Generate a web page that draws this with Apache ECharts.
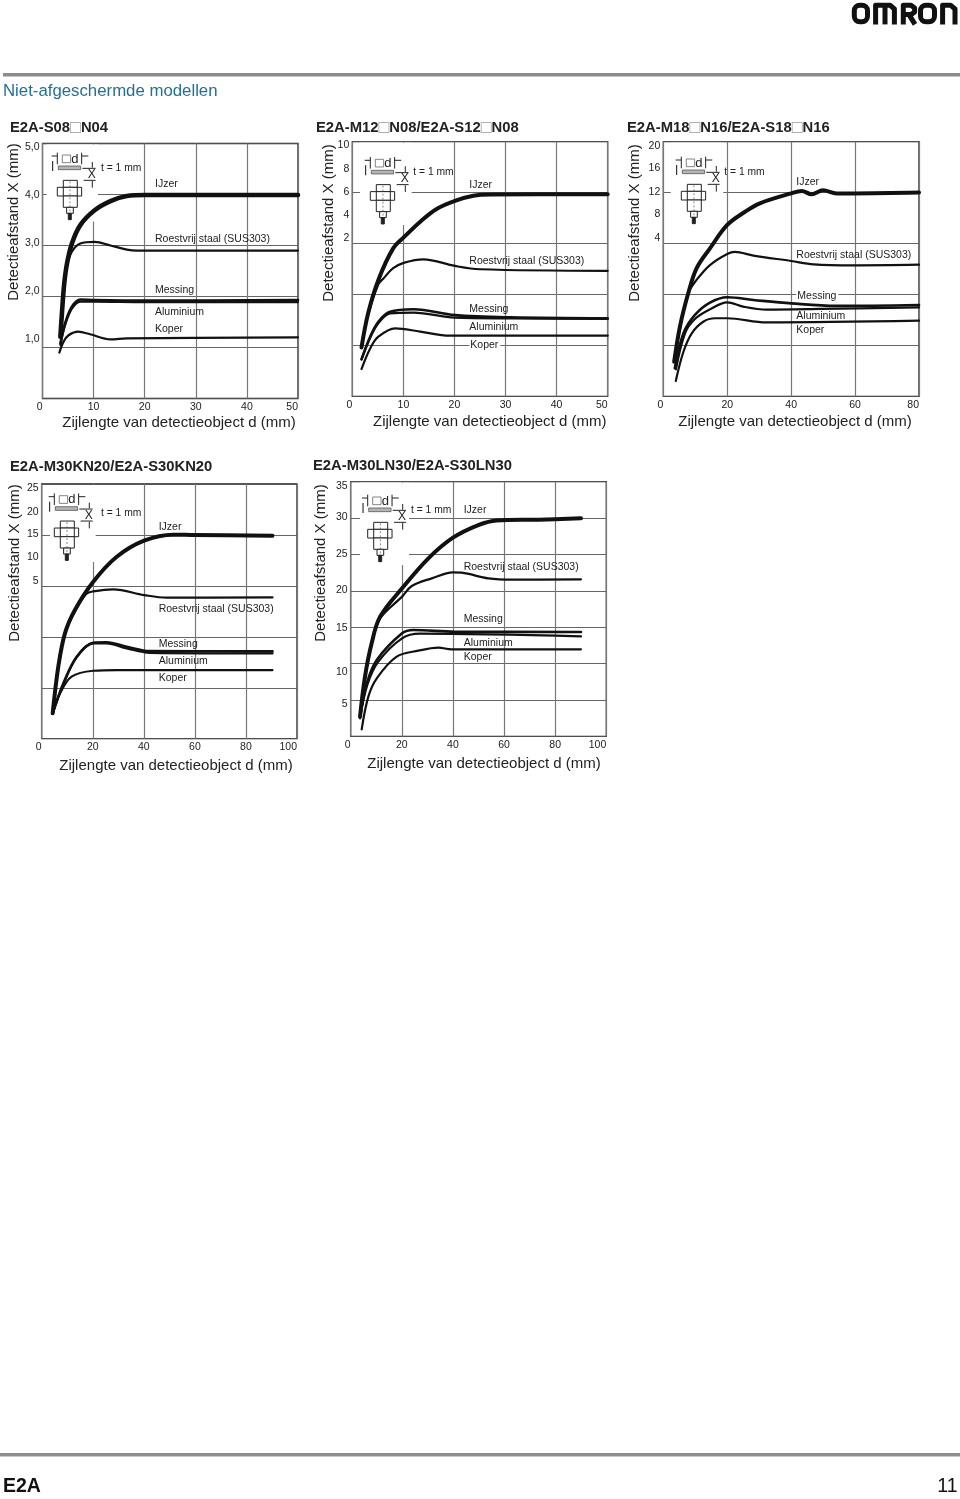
<!DOCTYPE html>
<html><head><meta charset="utf-8">
<style>html,body{margin:0;padding:0;background:#fff}#c{width:960px;height:1499px}</style>
<script src="https://cdn.jsdelivr.net/npm/echarts@6/dist/echarts.min.js"></script>
</head><body><div id="c"></div>
<script>
// ---------- data: [d (mm), X (mm)] ----------
const materials = ['IJzer','Roestvrij staal (SUS303)','Messing','Aluminium','Koper'];
const s08_ijzer = [[3.5,1.21],[3.8,1.67],[4.25,2.25],[4.8,2.65],[5.75,3.04],[7.4,3.4],[10.2,3.69],[13.3,3.87],[16.5,3.97],[20.1,3.99],[50,3.99]];
const s08_roest = [[3.6,1.25],[4.2,2.1],[4.8,2.6],[5.75,2.88],[7.4,3.04],[10.2,3.07],[13.3,3.0],[16.5,2.92],[18.5,2.9],[50,2.9]];
const s08_messing = [[3.5,1.08],[4.4,1.47],[5.75,1.8],[7.4,1.94],[10.2,1.93],[20,1.92],[50,1.93]];
const s08_alu = [[3.5,1.05],[4.4,1.43],[5.75,1.76],[7.4,1.9],[10.2,1.9],[20,1.89],[50,1.89]];
const s08_koper = [[3.3,0.9],[4.1,1.11],[5.1,1.24],[7,1.31],[9.3,1.26],[13.3,1.16],[16.5,1.18],[50,1.2]];

const m12_ijzer = [[1.8,1.92],[3.1,3.26],[5.1,4.57],[8,5.81],[10.2,6.27],[13.3,6.86],[16.5,7.36],[20.1,7.68],[23.7,7.88],[27,7.93],[50,7.94]];
const m12_roest = [[1.8,1.9],[3.1,3.2],[5.1,4.4],[6.1,4.63],[8,5.03],[10.2,5.25],[13.9,5.38],[20.1,5.12],[25,4.99],[50,4.93]];
const m12_messing = [[1.8,1.45],[3.5,2.34],[5.1,2.93],[7.4,3.32],[12,3.42],[20.1,3.19],[31,3.1],[50,3.06]];
const m12_alu = [[1.8,1.45],[3.5,2.3],[5.1,2.87],[7.4,3.26],[12,3.29],[20.1,3.09],[31,3.06],[50,3.04]];
const m12_koper = [[1.8,1.07],[3.5,1.88],[5.1,2.34],[8.4,2.67],[13.3,2.54],[19.1,2.38],[50,2.38]];

const m18_ijzer = [[3.4,2.72],[5.2,5.47],[7.8,8.09],[10.4,10.05],[14.6,11.62],[20,13.46],[25.6,14.5],[30.2,15.16],[40,15.94],[43.3,16.13],[46.4,15.87],[50,16.18],[54.2,15.94],[59.4,15.94],[80,16]];
const m18_roest = [[3.5,2.7],[5.3,5.4],[7.8,8.1],[10.4,9.14],[14.6,10.31],[20,11.18],[22.4,11.34],[28.2,11.05],[40,10.63],[47,10.37],[59.4,10.29],[80,10.34]];
const m18_messing = [[3.6,2.2],[6.3,4.95],[9.9,6.39],[14.6,7.36],[20,7.78],[28.2,7.57],[40,7.3],[54.2,7.1],[80,7.17]];
const m18_alu = [[3.96,2.12],[6.8,4.95],[9.9,6.07],[14.6,6.83],[20,7.38],[25,7.04],[32.3,6.81],[49,6.86],[80,6.99]];
const m18_koper = [[3.9,1.2],[6.3,3.5],[8.9,4.95],[12.5,5.86],[16.2,6.13],[20,6.13],[32.3,5.81],[80,5.94]];

const kn20_ijzer = [[4.3,2.49],[6.5,7.07],[9.1,10.34],[13,12.63],[20.2,15.41],[29.4,17.86],[40.1,19.44],[51.5,20.03],[60,19.99],[90.4,19.93]];
const kn20_roest = [[4.3,2.49],[6.5,7.07],[9.1,10.34],[13,12.5],[17.4,14.2],[20.2,14.46],[28,14.66],[40.1,14.1],[48.9,13.84],[90.4,13.87]];
const kn20_messing = [[4.3,2.49],[8.5,5.43],[13.7,8.05],[20.2,9.42],[25.4,9.46],[33.3,9.03],[42.4,8.6],[90.4,8.57]];
const kn20_alu = [[4.3,2.49],[8.5,5.36],[13.7,7.98],[20.2,9.35],[25.4,9.36],[33.3,8.87],[42.4,8.43],[90.4,8.37]];
const kn20_koper = [[4.3,2.49],[7.2,4.45],[11.7,6.09],[20.2,6.67],[29.4,6.74],[90.4,6.74]];

const ln30_ijzer = [[3.65,2.7],[5.6,8.2],[8.2,12.78],[11.5,16.45],[20.1,20.34],[30.4,24.46],[40,27.3],[49.9,29.04],[57.1,29.68],[73.4,29.78],[90.1,29.96]];
const ln30_roest = [[3.65,2.7],[5.6,8.2],[8.2,12.7],[11.5,16.2],[20.1,19.2],[23.9,20.66],[31.7,21.71],[40,22.54],[43.4,22.49],[53.9,21.71],[63,21.53],[90.1,21.58]];
const ln30_messing = [[3.65,2.7],[6.3,7.28],[10.2,10.49],[20.1,14.16],[24.5,14.61],[40.8,14.38],[90.1,14.34]];
const ln30_alu = [[3.65,2.47],[6.5,7.05],[10.8,10.26],[20.1,13.47],[27.1,14.11],[90.1,13.74]];
const ln30_koper = [[4.3,0.96],[6.9,5.45],[10.2,7.97],[18,10.95],[26.5,11.77],[34.3,12.19],[39.5,11.96],[90.1,11.96]];

// tick labels as printed, and where the source prints each one on its axis
const s08_ticks = ['5,0','4,0','3,0','2,0','1,0'];   const s08_tickAt = [4.92,3.99,3.05,2.10,1.16];
const m12_ticks = ['10','8','6','4','2'];            const m12_tickAt = [9.87,8.94,8.01,7.12,6.2];
const m18_ticks = ['20','16','12','8','4'];          const m18_tickAt = [19.69,17.91,16.02,14.29,12.41];
const kn20_ticks = ['25','20','15','10','5'];        const kn20_tickAt = [24.64,22.28,20.06,17.8,15.51];
const ln30_ticks = ['35','30','25','20','15','10','5']; const ln30_tickAt = [34.45,30.1,25.01,20.11,14.93,8.8,4.44];

const titles = ['E2A-S08{b|□}N04','E2A-M12{b|□}N08/E2A-S12{b|□}N08','E2A-M18{b|□}N16/E2A-S18{b|□}N16','E2A-M30KN20/E2A-S30KN20','E2A-M30LN30/E2A-S30LN30'];
const xTitle = 'Zijlengte van detectieobject d (mm)';
const yTitle = 'Detectieafstand X (mm)';

// ---------- layout ----------
const FONT = '"Liberation Sans",Arial,sans-serif';
const panels = [
 {data:[s08_ijzer,s08_roest,s08_messing,s08_alu,s08_koper],ticks:s08_ticks,at:s08_tickAt,l:42.5,r:298,t:143.5,b:398.5,xMax:50,xInt:10,yMax:5,yInt:1,
  tx:10,ty:128,yn:[13,222],xn:[179,422],plate:[58.3,166],tmm:[42.7,2.3],mask:[46.7,98,221.6],
  labels:[[155,184],[155,239.3],[155,290.3],[155,312],[155,329.3]],ox:0,w0:4.6},
 {data:[m12_ijzer,m12_roest,m12_messing,m12_alu,m12_koper],ticks:m12_ticks,at:m12_tickAt,l:352.3,r:607.7,t:141.7,b:396.3,xMax:50,xInt:10,yMax:10,yInt:2,
  tx:316,ty:128,yn:[328,223],xn:[489.7,421],plate:[371.3,170.3],tmm:[42,1.5],mask:[360,411.7,225],
  labels:[[469.3,185],[469.3,260.7],[469.3,309],[469.3,326.7],[469.3,345]],bg:[4],w0:4},
 {data:[m18_ijzer,m18_roest,m18_messing,m18_alu,m18_koper],ticks:m18_ticks,at:m18_tickAt,l:663.3,r:919,t:141.7,b:396.3,xMax:80,xInt:20,yMax:20,yInt:4,
  tx:627,ty:128,yn:[634,223],xn:[795,421],plate:[682.3,170],tmm:[42,2],mask:[670.7,723.3,225],
  labels:[[796.3,181.7],[796.3,255],[796.3,296],[796.3,316.3],[796.3,329.7]],bg:[2],w0:4},
 {data:[kn20_ijzer,kn20_roest,kn20_messing,kn20_alu,kn20_koper],ticks:kn20_ticks,at:kn20_tickAt,l:41.7,r:297,t:484,b:738.7,xMax:100,xInt:20,yMax:25,yInt:5,
  tx:10,ty:467,yn:[14,563],xn:[176,765],plate:[55.3,506.7],tmm:[45.7,6],mask:[50,95.7,562],
  labels:[[158.7,527.3],[158.7,608.7],[158.7,644],[158.7,661],[158.7,678.3]],w0:4},
 {data:[ln30_ijzer,ln30_roest,ln30_messing,ln30_alu,ln30_koper],ticks:ln30_ticks,at:ln30_tickAt,l:350.7,r:606.3,t:481.7,b:736.3,xMax:100,xInt:20,yMax:35,yInt:5,
  tx:313,ty:466,yn:[320,563],xn:[484,763],plate:[368.7,508],tmm:[42.3,2.3],mask:[360,409,565],
  labels:[[463.7,510],[463.7,567.3],[463.7,619],[463.7,642.7],[463.7,656.7]],w0:4}
];

const W=960,H=1499;
const grid=[],xAxis=[],yAxis=[],series=[],title=[],graphic=[];

function line(x1,y1,x2,y2,z,stroke,lw){return {type:'line',silent:true,z:z||4,shape:{x1,y1,x2,y2},style:{stroke:stroke||'#222',lineWidth:lw||1}};}
function box(x,y,w,h,fill,stroke,lw){return {type:'rect',silent:true,z:4,shape:{x,y,width:w,height:h},style:{fill:fill||'#fff',stroke:stroke||'#222',lineWidth:lw||1}};}
function txt(x,y,s,size,opt){opt=opt||{};return {type:'text',silent:true,z:opt.z||5,x,y,style:Object.assign({text:s,font:(opt.weight||'normal')+' '+size+'px '+FONT,fill:opt.fill||'#222',align:opt.align||'left',verticalAlign:'middle'},opt.style||{})};}

function inset(p){
  const [ox,oy]=p.plate;
  const u=v=>v/3;
  const parts=[
   box(u(0),u(0),u(67),u(11),'#b5b5b5','#555',0.8),
   box(u(12),u(-33),u(25),u(23),'#fff','#777',0.9),
   txt(u(50),u(-21),'d',13,{align:'center'}),
   line(u(-3),u(-40),u(-3),u(-5)), line(u(70),u(-40),u(70),u(-5)),
   line(u(-20),u(-30),u(-3),u(-30)), line(u(70),u(-30),u(90),u(-30)),
   line(u(-17),u(-15),u(-17),u(15),4,'#222',1.1),
   line(u(72),u(7),u(112),u(7)), line(u(76),u(43),u(112),u(43)),
   txt(u(100),u(26),'X',12,{align:'center'}),
   line(u(102),u(-12),u(102),u(5)), line(u(102),u(45),u(102),u(65)),
   box(u(15),u(43),u(42),u(21)),
   box(u(-3),u(64),u(73),u(26)),
   line(u(15),u(64),u(15),u(90)), line(u(57),u(64),u(57),u(90)),
   box(u(15),u(90),u(42),u(34)),
   box(u(25),u(124),u(20),u(18)),
   box(u(30),u(142),u(9),u(19),'#222','#222'),
   {type:'line',silent:true,z:4,shape:{x1:u(35),y1:u(46),x2:u(35),y2:u(138)},style:{stroke:'#555',lineWidth:0.7,lineDash:[2,2]}},
   txt(p.tmm[0],p.tmm[1],'t = 1 mm',10.3)
  ];
  return {type:'group',x:ox,y:oy,silent:true,children:parts};
}

panels.forEach((p,i)=>{
  grid.push({left:p.l,top:p.t,width:p.r-p.l,height:p.b-p.t,show:true,borderColor:'#222',borderWidth:1.3,backgroundColor:'transparent',outerBoundsMode:'none'});
  const xCenter=(p.l+p.r)/2, yCenter=(p.t+p.b)/2;
  xAxis.push({gridIndex:i,type:'value',min:0,max:p.xMax,interval:p.xInt,
    axisLine:{show:false},axisTick:{show:false},
    splitLine:{show:true,lineStyle:{color:'#777',width:1.2}},
    axisLabel:{fontFamily:FONT,fontSize:10.5,color:'#222',margin:3,alignMinLabel:'right',alignMaxLabel:'right',showMinLabel:true,showMaxLabel:true},
    name:xTitle,nameLocation:'middle',nameGap:p.xn[1]-p.b-6.5,nameMoveOverlap:false,
    nameTextStyle:{fontFamily:FONT,fontSize:15,color:'#222',padding:[0,0,0,(p.xn[0]-xCenter)*2]}});
  const ticks=p.ticks, at=p.at;
  yAxis.push({gridIndex:i,type:'value',min:0,max:p.yMax,interval:p.yInt,
    axisLine:{show:false},axisTick:{show:false},
    splitLine:{show:true,lineStyle:{color:'#555',width:0.9}},
    axisLabel:{fontFamily:FONT,fontSize:10.5,color:'#222',margin:3,customValues:at,
      formatter:v=>{let k=0,d=1e9;at.forEach((a,j)=>{if(Math.abs(a-v)<d){d=Math.abs(a-v);k=j;}});return ticks[k];}},
    name:yTitle,nameLocation:'middle',nameRotate:90,nameGap:p.l-p.yn[0]-8,nameMoveOverlap:false,
    nameTextStyle:{fontFamily:FONT,fontSize:15,color:'#222',padding:[0,0,0,(yCenter-p.yn[1])*2]}});
  p.data.forEach((d,j)=>{
    series.push({type:'line',name:materials[j],xAxisIndex:i,yAxisIndex:i,data:d,smooth:0.35,showSymbol:false,silent:true,animation:false,
      lineStyle:{color:'#111',width:j===0?p.w0:(j===2?2.6:2.2),cap:'round',join:'round'},z:j===0?3:2});
  });
  title.push({text:titles[i],left:p.tx,top:p.ty-9,padding:0,
    textStyle:{fontFamily:FONT,fontSize:14.8,fontWeight:'bold',color:'#222',lineHeight:18,rich:{b:{fontFamily:FONT,fontSize:18,color:'#999',fontWeight:'normal',lineHeight:18}}}});
  // white mask the source keeps behind the inset drawing
  graphic.push({type:'rect',silent:true,z:1,shape:{x:p.mask[0],y:p.t+1,width:p.mask[1]-p.mask[0],height:p.mask[2]-p.t-1},style:{fill:'#fff'}});
  graphic.push(inset(p));
  materials.forEach((m,j)=>{
    const hasBg=p.bg&&p.bg.includes(j);
    graphic.push(txt(p.labels[j][0],p.labels[j][1],m,10.5,hasBg?{style:{backgroundColor:'#fff',padding:[0,2,0,1]}}:{}));
  });
});

// page furniture
graphic.push({type:'rect',silent:true,shape:{x:3,y:73,width:957,height:3.6},style:{fill:'#8c8c8c'}});
graphic.push({type:'rect',silent:true,shape:{x:0,y:1453,width:960,height:3.6},style:{fill:'#8c8c8c'}});
graphic.push(txt(3,91.5,'Niet-afgeschermde modellen',16.8,{fill:'#1f6f9f'}));
graphic.push(txt(3,1486.5,'E2A',19.5,{weight:'bold',fill:'#111'}));
graphic.push(txt(957.5,1486.5,'11',19.5,{fill:'#111',align:'right'}));
// logo
const lg={stroke:'#111',lineWidth:5,fill:null,lineJoin:'round'};
graphic.push({type:'rect',silent:true,shape:{x:854.3,y:5.2,width:13.2,height:16.6,r:5.5},style:lg});
graphic.push({type:'rect',silent:true,shape:{x:920.5,y:5.2,width:14,height:16.6,r:5.5},style:lg});
const poly=pts=>({type:'polyline',silent:true,shape:{points:pts},style:lg});
graphic.push(poly([[875.6,24.4],[875.6,5.2],[890,5.2],[894.4,9],[894.4,24.4]]));
graphic.push(poly([[885,5.2],[885,24.4]]));
graphic.push(poly([[903.3,24.4],[903.3,5.2],[911,5.2],[914.6,8],[914.6,12],[911,14.6],[903.3,14.6]]));
graphic.push(poly([[909,14.6],[915,24.4]]));
graphic.push(poly([[942.6,24.4],[942.6,5.2],[950.5,5.2],[955,9],[955,24.4]]));

const chart=echarts.init(document.getElementById('c'),null,{renderer:'canvas',width:W,height:H});
chart.setOption({animation:false,backgroundColor:'#fff',textStyle:{fontFamily:FONT},title,grid,xAxis,yAxis,series,graphic});
</script></body></html>
